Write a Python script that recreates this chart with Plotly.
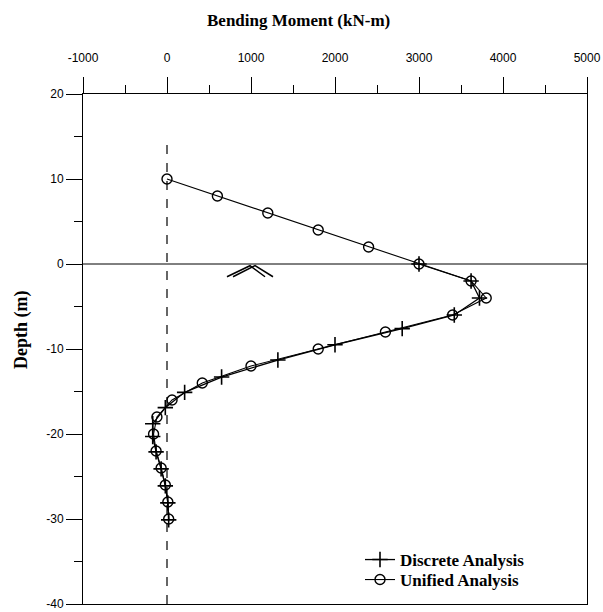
import plotly.graph_objects as go

# Unified Analysis (circles)
unified_depth = [10, 8, 6, 4, 2, 0, -2, -4, -6, -8, -10, -12, -14, -16, -18, -20, -22, -24, -26, -28, -30]
unified_moment = [0, 600, 1200, 1800, 2400, 3000, 3620, 3800, 3400, 2600, 1800, 1000, 420, 60, -120, -160, -130, -70, -20, 10, 20]

# Discrete Analysis (plus)
discrete_depth = [0, -2, -4, -6, -7.6, -9.5, -11.3, -13.3, -15.1, -16.9, -18.8, -20.3, -22.1, -24.1, -26.1, -28.1, -30.1]
discrete_moment = [3000, 3620, 3720, 3420, 2800, 2000, 1320, 650, 210, -20, -170, -170, -130, -70, -20, 10, 20]

x_ticks = [-1000, 0, 1000, 2000, 3000, 4000, 5000]
y_ticks = [20, 10, 0, -10, -20, -30, -40]

W, H = 603, 612
L, R, T, B = 83, 16, 94, 8
pw = W - L - R
ph = H - T - B

fig = go.Figure()
fig.add_trace(go.Scatter(
    x=discrete_moment, y=discrete_depth, mode="lines+markers", name="<b>Discrete Analysis</b>",
    line=dict(color="black", width=1.3), legend="legend",
    marker=dict(symbol="cross-thin-open", size=11, color="black", line=dict(color="black", width=1.6)),
))
fig.add_trace(go.Scatter(
    x=unified_moment, y=unified_depth, mode="lines+markers", name="<b>Unified Analysis</b>",
    line=dict(color="black", width=1.1), legend="legend2",
    marker=dict(symbol="circle-open", size=10, color="black", line=dict(color="black", width=1.4)),
))

# reference lines
fig.add_shape(type="line", x0=-1000, x1=5000, y0=0, y1=0, xref="x", yref="y",
              line=dict(color="black", width=1))
fig.add_shape(type="line", x0=0, x1=0, y0=14, y1=-40, xref="x", yref="y",
              line=dict(color="black", width=1.2, dash="dash"))
# ground surface symbol
for (a, b, c) in [((714, -1.5), (988, -0.2), (1167, -1.5)), ((786, -1.5), (1048, -0.2), (1262, -1.5))]:
    fig.add_shape(type="path", xref="x", yref="y",
                  path=f"M {a[0]} {a[1]} L {b[0]} {b[1]} L {c[0]} {c[1]}",
                  line=dict(color="black", width=1.5))

fig.add_annotation(text="<b>Bending Moment (kN-m)</b>", xref="paper", yref="paper",
                   x=(298 - L) / pw, y=1 + (T - 20) / ph, showarrow=False,
                   xanchor="center", yanchor="middle",
                   font=dict(family="Liberation Serif", size=17, color="black"))
fig.add_annotation(text="<b>Depth (m)</b>", xref="paper", yref="paper",
                   x=(21 - L) / pw, y=(H - B - 330) / ph, showarrow=False, textangle=-90,
                   xanchor="center", yanchor="middle",
                   font=dict(family="Liberation Serif", size=18, color="black"))

fig.update_xaxes(range=[-1000, 5000], side="top", tickvals=x_ticks, ticktext=[str(v) for v in x_ticks],
                 ticks="outside", ticklen=16, tickwidth=1, tickcolor="black",
                 minor=dict(dtick=500, ticks="outside", ticklen=8, tickwidth=1, tickcolor="black", tick0=-1000),
                 showline=True, linecolor="black", linewidth=1, mirror=True, showgrid=False, zeroline=False,
                 tickfont=dict(family="Liberation Sans", size=12, color="black"), ticklabelstandoff=10,
                 automargin=False)
fig.update_yaxes(range=[-40, 20], tickvals=y_ticks, ticktext=[str(v) for v in y_ticks],
                 ticks="outside", ticklen=16, tickwidth=1, tickcolor="black",
                 minor=dict(dtick=5, ticks="outside", ticklen=8, tickwidth=1, tickcolor="black", tick0=-40),
                 showline=True, linecolor="black", linewidth=1, mirror=True, showgrid=False, zeroline=False,
                 tickfont=dict(family="Liberation Sans", size=12, color="black"), automargin=False)

leg_common = dict(xanchor="left", yanchor="middle", bgcolor="rgba(0,0,0,0)", borderwidth=0,
                  font=dict(family="Liberation Serif", size=17, color="black"))
fig.update_layout(
    width=W, height=H, margin=dict(l=L, r=R, t=T, b=B, autoexpand=False),
    plot_bgcolor="white", paper_bgcolor="white",
    legend=dict(x=(360 - L) / pw, y=(H - B - 560) / ph, **leg_common),
    legend2=dict(x=(360 - L) / pw, y=(H - B - 580) / ph, **leg_common),
    showlegend=True,
)

fig.write_html("out.html")
